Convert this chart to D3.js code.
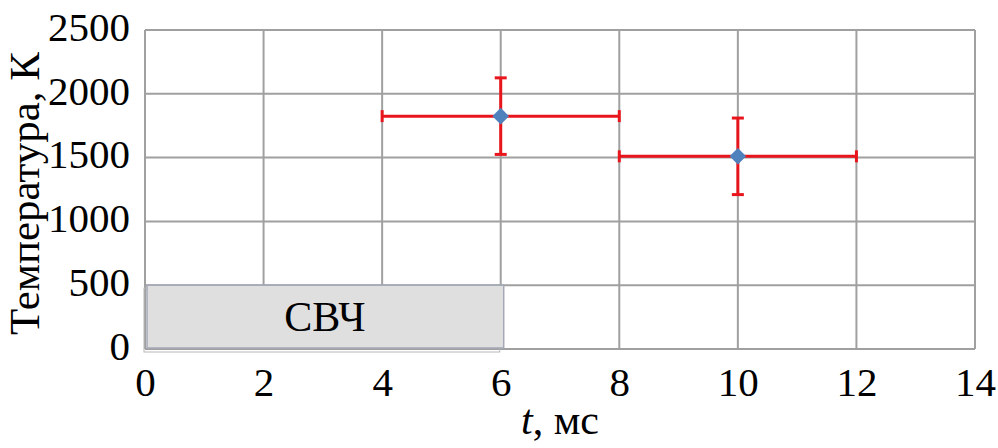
<!DOCTYPE html>
<html><head><meta charset="utf-8">
<script src="https://cdnjs.cloudflare.com/ajax/libs/d3/7.8.5/d3.min.js"></script>
<style>body{margin:0;background:#fff}svg{display:block}text{font-family:"Liberation Serif","Times New Roman",serif;fill:#000}</style>
</head><body>
<svg id="c" width="998" height="448"></svg>
<script>
const xTicks = [0, 2, 4, 6, 8, 10, 12, 14];
const yTicks = [0, 500, 1000, 1500, 2000, 2500];
const times = [6, 10];
const temps = [1825, 1510];
const xErrLow = [4, 8];
const xErrHigh = [8, 12];
const yErr = [300, 300];
const mwStart = 0, mwEnd = 6, mwTop = 500, mwLabel = "СВЧ";

const svg = d3.select("#c");
const m = {l: 145, r: 998 - 975, t: 30, b: 448 - 349};
const W = 998, H = 448;
const x = d3.scaleLinear().domain([0, 14]).range([m.l, W - m.r]);
const y = d3.scaleLinear().domain([0, 2500]).range([H - m.b, m.t]);

const grid = svg.append("g");
grid.selectAll(".vx").data(xTicks).join("line")
  .attr("x1", d => x(d)).attr("x2", d => x(d)).attr("y1", y(0)).attr("y2", y(2500))
  .attr("stroke", "#a0a0a0").attr("stroke-width", 2);
grid.selectAll(".hy").data(yTicks).join("line")
  .attr("y1", d => y(d)).attr("y2", d => y(d)).attr("x1", x(0)).attr("x2", x(14))
  .attr("stroke", "#a0a0a0").attr("stroke-width", 2);

// microwave pulse box (with slight shadow)
svg.append("rect").attr("x", x(mwStart) - 1).attr("y", y(mwTop) + 3)
  .attr("width", x(mwEnd) - x(mwStart)).attr("height", y(0) - y(mwTop))
  .attr("fill", "none").attr("stroke", "#b8b8b8").attr("stroke-width", 1);
svg.append("rect").attr("x", x(mwStart) + 2).attr("y", y(mwTop))
  .attr("width", x(mwEnd) - x(mwStart) + 1).attr("height", y(0) - y(mwTop) - 1)
  .attr("fill", "#e0dfe0").attr("stroke", "#a4a9b6").attr("stroke-width", 1.5);
svg.append("text").attr("x", (x(mwStart) + x(mwEnd)) / 2 + 2).attr("y", y(mwTop / 2) + 14)
  .attr("text-anchor", "middle").attr("font-size", 42).text(mwLabel);

const fmt = d3.format("d");
const ax = svg.append("g").attr("transform", `translate(0,${y(0)})`)
  .call(d3.axisBottom(x).tickValues(xTicks).tickFormat(fmt).tickSize(0).tickPadding(18));
ax.select(".domain").remove();
ax.selectAll("text").attr("font-size", 41).attr("font-family", "Liberation Serif").attr("fill", "#000");
const ay = svg.append("g").attr("transform", `translate(${x(0)},0)`)
  .call(d3.axisLeft(y).tickValues(yTicks).tickFormat(fmt).tickSize(0).tickPadding(15));
ay.select(".domain").remove();
ay.selectAll("text").attr("font-size", 41).attr("font-family", "Liberation Serif").attr("fill", "#000").attr("dy", "0.25em");

// error bars
const data = times.map((t, i) => ({t, v: temps[i], xl: xErrLow[i], xh: xErrHigh[i], e: yErr[i]}));
const eb = svg.append("g").attr("stroke", "#e8161c").attr("stroke-width", 3);
data.forEach(d => {
  eb.append("line").attr("x1", x(d.xl)).attr("x2", x(d.xh)).attr("y1", y(d.v)).attr("y2", y(d.v));
  eb.append("line").attr("x1", x(d.xl)).attr("x2", x(d.xl)).attr("y1", y(d.v) - 6).attr("y2", y(d.v) + 6);
  eb.append("line").attr("x1", x(d.xh)).attr("x2", x(d.xh)).attr("y1", y(d.v) - 6).attr("y2", y(d.v) + 6);
  eb.append("line").attr("x1", x(d.t)).attr("x2", x(d.t)).attr("y1", y(d.v - d.e)).attr("y2", y(d.v + d.e));
  eb.append("line").attr("x1", x(d.t) - 6).attr("x2", x(d.t) + 6).attr("y1", y(d.v + d.e)).attr("y2", y(d.v + d.e));
  eb.append("line").attr("x1", x(d.t) - 6).attr("x2", x(d.t) + 6).attr("y1", y(d.v - d.e)).attr("y2", y(d.v - d.e));
});
svg.append("g").selectAll("path").data(data).join("path")
  .attr("d", d3.symbol(d3.symbolDiamond2, 175)())
  .attr("transform", d => `translate(${x(d.t)},${y(d.v)})`)
  .attr("fill", "#4f81bd");

// axis titles
const xt = svg.append("text").attr("x", (x(0) + x(14)) / 2).attr("y", 434).attr("text-anchor", "middle").attr("font-size", 42);
xt.append("tspan").attr("font-style", "italic").text("t");
xt.append("tspan").text(", мс");
svg.append("text").attr("transform", `translate(39,${(y(0) + y(2500)) / 2 + 4}) rotate(-90)`)
  .attr("text-anchor", "middle").attr("font-size", 43).text("Температура, К");
</script>
</body></html>
